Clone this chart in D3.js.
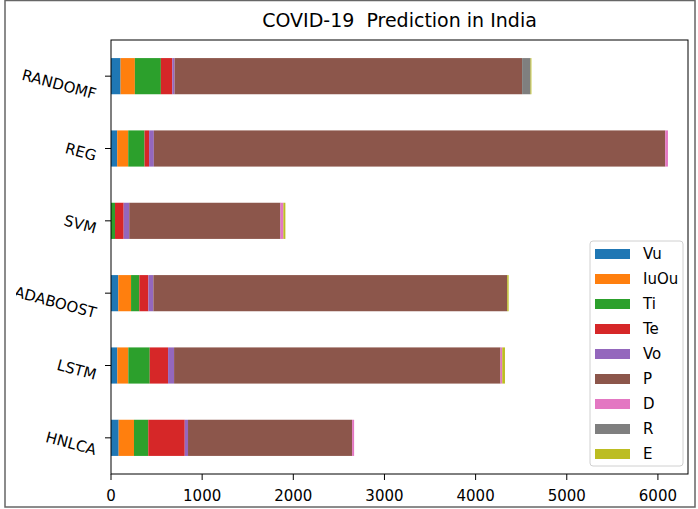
<!DOCTYPE html>
<html>
<head>
<meta charset="utf-8">
<script src="https://cdn.jsdelivr.net/npm/d3@7"></script>
<style>
  body { margin: 0; background: #fff; }
  text { font-family: "DejaVu Sans", sans-serif; fill: #000; }
</style>
</head>
<body>
<div id="chart"></div>
<script>
// models, bottom to top (pandas order)
var models = ['HNLCA', 'LSTM', 'ADABOOST', 'SVM', 'REG', 'RANDOMF'];
var seriesNames = ['Vu', 'IuOu', 'Ti', 'Te', 'Vo', 'P', 'D', 'R', 'E'];

// one array per series, same order as models
var Vu   = [84, 69, 80, 0, 68, 105];
var IuOu = [168, 121, 140, 0, 121, 157];
var Ti   = [157, 235, 91, 44, 179, 285];
var Te   = [400, 201, 99, 95, 50, 125];
var Vo   = [36, 66, 55, 61, 52, 25];
var P    = [1800, 3581, 3882, 1659, 5610, 3813];
var D    = [22, 19, 0, 32, 30, 0];
var R    = [0, 0, 0, 0, 0, 92];
var E    = [0, 30, 15, 22, 0, 10];

var xTicks = [0, 1000, 2000, 3000, 4000, 5000, 6000];
var colors = ['#1f77b4', '#ff7f0e', '#2ca02c', '#d62728', '#9467bd',
              '#8c564b', '#e377c2', '#7f7f7f', '#bcbd22'];

var W = 698, H = 509;
var plot = {left: 111, right: 688, top: 40, bottom: 474};

var rows = models.map(function(m, i) {
  return {model: m, Vu: Vu[i], IuOu: IuOu[i], Ti: Ti[i], Te: Te[i], Vo: Vo[i],
          P: P[i], D: D[i], R: R[i], E: E[i]};
});
var stacked = d3.stack().keys(seriesNames)(rows);

var svg = d3.select('#chart').append('svg')
    .attr('width', W).attr('height', H);

var defs = svg.append('defs');
defs.append('clipPath').attr('id', 'fig')
  .append('rect').attr('x', 5).attr('y', 0).attr('width', 690).attr('height', 507);
// the original image is cropped just left of the longest label
defs.append('clipPath').attr('id', 'labs')
  .append('rect').attr('x', 16).attr('y', 0).attr('width', 200).attr('height', 507);

var fig = svg.append('g').attr('clip-path', 'url(#fig)');

var x = d3.scaleLinear().domain([0, 6330]).range([plot.left, plot.right]);
var y = d3.scaleLinear().domain([-0.5, 5.5]).range([plot.bottom, plot.top]);
var barH = y(0) - y(0.5);

// bars
fig.append('g').selectAll('g')
    .data(stacked)
    .join('g')
      .attr('fill', function(d, i) { return colors[i]; })
    .selectAll('rect')
    .data(function(d) { return d; })
    .join('rect')
      .attr('x', function(d) { return x(d[0]); })
      .attr('width', function(d) { return x(d[1]) - x(d[0]); })
      .attr('y', function(d, i) { return y(i) - barH / 2; })
      .attr('height', barH);

// axes frame
fig.append('rect')
    .attr('x', plot.left).attr('y', plot.top)
    .attr('width', plot.right - plot.left).attr('height', plot.bottom - plot.top)
    .attr('fill', 'none').attr('stroke', '#000').attr('stroke-width', 1);

// x axis
var gx = fig.append('g');
xTicks.forEach(function(t) {
  gx.append('line')
      .attr('x1', x(t)).attr('x2', x(t))
      .attr('y1', plot.bottom).attr('y2', plot.bottom + 6)
      .attr('stroke', '#000');
  gx.append('text')
      .attr('x', x(t)).attr('y', plot.bottom + 27)
      .attr('text-anchor', 'middle')
      .style('font-size', '15px')
      .text(t);
});

// y axis with rotated labels
var gy = fig.append('g');
var gyLab = fig.append('g').attr('clip-path', 'url(#labs)');
models.forEach(function(m, i) {
  var ty = y(i);
  gy.append('line')
      .attr('x1', plot.left - 6).attr('x2', plot.left)
      .attr('y1', ty).attr('y2', ty)
      .attr('stroke', '#000');
  var lab = gyLab.append('text')
      .attr('text-anchor', 'end')
      .attr('dominant-baseline', 'central')
      .style('font-size', '15px')
      .text(m);
  var L = lab.node().getComputedTextLength();
  var ax = 96, ay = ty + 0.24 * L;
  lab.attr('transform', 'translate(' + ax + ',' + ay + ') rotate(15)');
});

// title
fig.append('text')
    .attr('x', (plot.left + plot.right) / 2).attr('y', 27)
    .attr('text-anchor', 'middle')
    .style('font-size', '19px')
    .style('white-space', 'pre')
    .text('COVID-19  Prediction in India');

// legend
var leg = fig.append('g');
leg.append('rect')
    .attr('x', 590).attr('y', 241).attr('width', 93).attr('height', 225)
    .attr('rx', 3)
    .attr('fill', '#fff').attr('fill-opacity', 0.8)
    .attr('stroke', '#d0d0d0');
seriesNames.forEach(function(s, i) {
  var cy = 254 + i * 25;
  leg.append('rect')
      .attr('x', 595).attr('y', cy - 5).attr('width', 35).attr('height', 10)
      .attr('fill', colors[i]);
  leg.append('text')
      .attr('x', 643).attr('y', cy)
      .attr('dominant-baseline', 'central')
      .style('font-size', '15px')
      .text(s);
});

// outer figure border
svg.append('rect')
    .attr('x', 5).attr('y', 0.5).attr('width', 690).attr('height', 506.5)
    .attr('fill', 'none').attr('stroke', '#666').attr('stroke-width', 1.5);
</script>
</body>
</html>
